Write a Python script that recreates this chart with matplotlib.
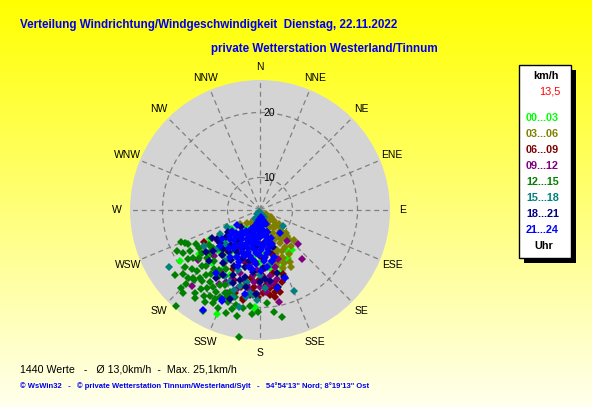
import numpy as np
import matplotlib
matplotlib.use("Agg")
import matplotlib.pyplot as plt
from matplotlib.patches import Rectangle

# ---------------- data: (direction deg, speed km/h) per time slot ----------------
pts_00_03 = [(234,16.6),(237.5,19.6),(202.5,22.3),(183.5,20.1),(235.8,10.2),(154.3,13.9),(135,11.3),
             (236.8,10.3),(158.9,14.4),(181,13.2),(183,19.9),(146.6,12.6),
             (200,12),(215,13),(190,10),(225,14),(210,9),(185,15),(220,11),(195,14),(205,16),(175,12),
             (230,12.5),(212,15.5),(188,12.5),(198,8.5),(170,14),(222,16),(208,11),(192,16.8),(178,9),(216,8.5),
             (150,13.6),(142,12.9),(162,15.2),(228,15.3),(240,13.8),(203,10.7),(187,17.4)]
pts_03_06 = [(124,6.1),(128,7.5),(139,8.5),(135,10),(138,10.8),(136,11.2),(134,10.8),(149,10.9),(157,11.7),
             (155,13),(161,13.5),(154,13.2),(235,8.8),(161,8.8),(158,10),(145,6.9),(128,7.7),(150,9.1),(160,10.4),
             (130,9.2),(142,9.8),(146,11.9),(140,12.3),(152,12.2),(163,12.4),(148,8.0),(133,8.3),(141,7.2),
             (155,7.8),(165,9.6),(168,11.0),(150,14.2),(158,14.6),(132,12.0),(120,7.0),(170,7.0),(175,8.2),
             (200,6.5),(215,7.5),(190,7.0),(137,9.4),(144,10.6),(131,10.4),(147,13.1),(153,10.0),(126,8.6),
             (143,8.2),(160,12.0),(156,14.0),(164,13.9),(152,15.0),(138,6.4),(180,7.6),(225,7.8)]
pts_06_09 = [(169.6,17.8),(172.7,17.1),(178,17.8),(196.8,18.3),(191,18.8),(170,18.6),(168,14.9),(185,17.7),
             (240,14.9),(168,17.1),(175.4,16.6),(169,16.4),(184.5,16.9),(190.7,19.1),
             (180,12),(195,13.5),(205,15),(160,15.5),(175,14),(188,15.5),(210,12),(165,12),(200,16.5),
             (182,16),(220,13),(172,10),(173,18.2),(166,18.0),(181,18.4),(187,18.1),(194,17.2),(163,16.6),
             (178,15.0),(206,11.1),(196,9.8),(214,14.8)]
pts_09_12 = [(132,12.8),(139.4,14.9),(168.3,19.5),(221.8,20.7),(235,13.1),(139,11.3),(182,17.9),(170.7,16.4),
             (189.8,16.7),(201.7,18.7),(231,17.2),
             (178,15.5),(186,15),(193,16),(174,16.8),(198,15.2),(183,14.2),(165,14),(205,17.2),(190,13.5),
             (212,16.3),(160,13),(225,15),(196,17.5),(180,16.8),(215,10.5),(230,11.5),(176,17.7),(188,17.3),
             (171,15.3),(202,16.4),(185,16.1),(199,13.2),(166,16.0),(209,18.0)]
pts_12_15 = [(248,18.1),(244.7,17.2),(243.7,19.2),(234.4,17.7),(230.3,20.4),(225.4,22.1),(222.9,22.4),
             (221.2,24.6),(216.4,21.8),(216.8,20.2),(214.2,19.5),(209.4,22.8),(206.8,21),(203.2,21.4),
             (198.3,21.7),(195.8,20.8),(192.2,21.7),(189.8,20.3),(189.4,24.8),(168.4,21.8),(184.4,21),
             (204.7,19.7),(221.4,19),(226,18.5),(226.6,20.2),(232.8,19.5),(232.6,21.5),(224.6,19.7),
             (212,17),(218,16.5),(224,17),(208,18),(228,16),(215,18.5),(220,18),(205,17.8),(230,15),
             (235,14.5),(210,15.5),(200,18.5),(196,19),(219,14),(227,13.5),(238,16),(240,17.5),(213,20.8),
             (223,19.8),(210,20.3),(232,17),(199,20),(186,19.8),(176,19.4),
             (236,18.4),(229,18.9),(217,17.4),(211,18.9),(222,15.6),(226,17.4),(214,16.2),(208,19.3),
             (203,18.8),(219,19.1),(233,16.1),(237,15.3),(242,16.2),(241,18.6),(246,17.6),(231,14.3),
             (225,21.0),(218,21.3),(207,20.4),(194,20.1),(211,21.5),(201,19.3),(181,20.7),(172,20.8)]
pts_15_18 = [(238,21.5),(237.3,15.2),(239,12.2),(242.7,10.7),(180,5.5),(217,5.8),(158,5.8),(157.2,18.5),
             (197.2,19),(192.2,20.3),(186.9,17.9),(184.7,18.1),(200,5.3),(150,6.3),(210,6.6),(124.8,9.3),
             (203,17),(190,16.2),(198,18),(215,14.5),(208,16.5),(180,15),(225,12.5),(170,13.5),(193,11),
             (185,9.5),(220,10),(176,17),(207,13.2),(200,14.8),(228,14),(186,13),(189,18.6),(182,18.9),
             (195,17.1),(212,13.9),(233,10.8)]
pts_18_21 = [(228.9,14.6),(198.6,19.5),(166.8,17.2),
             (180,8),(190,9),(200,10),(210,11),(220,12),(230,13),(170,10),(160,11),(175,12.5),(185,13),
             (195,14),(205,14.5),(215,15),(225,16),(165,15),(180,16),(190,17),(200,17),(210,16.5),(220,14),
             (170,7),(195,7.5),(205,8.5),(215,9.5),(225,10.5),(235,11),(187,11),(197,12),
             (207,12.5),(217,13),(177,14),(167,13),(172,16),(183,18),(193,15.5),(203,15.8),(213,17.5),
             (232,15.5),(160,16),(162,8.5),(188,6.5),(228,9),(240,13.5),(210,13.8),(200,12.8),(185,10.5),
             (168,11.6),(178,10.4),(192,13.0),(212,12.2),(223,13.3),(204,11.4),(196,16.2),(186,14.6),
             (176,15.6),(218,10.8),(236,12.9),(231,11.7),(164,9.6),(201,8.0)]
pts_21_24 = [(157,7.4),(158,9.6),
             (164,6.6),(163,8.6),(165,10.4),(164,12.6),(171,6.1),(172,8.1),(170,9.9),(171,11.7),
             (173,13.8),(178,6.4),(177,7.9),(179,9.2),(178,11.1),(176,12.8),(179,14.4),
             (185,6.9),(184,8.3),(186,10.1),(185,11.6),(184,13.3),(192,7.1),(191,8.9),
             (193,10.4),(192,12.2),(191,13.9),(199,7.7),(200,9.2),(198,11.1),(199,12.5),
             (201,14.3),(206,8.3),(205,9.9),(207,11.4),(206,13.1),(213,8.9),
             (212,10.3),(214,12.1),(213,13.6),(220,9.4),(221,11.1),(219,12.5),
             (227,10.1),(226,11.5),(228,13.3),(234,10.4),(233,12.3),
             (139,9.7),(203,19.9),(209.7,22.7),(202.7,20.2),(236,9.2),(168,17.3),(160,16.2),
             (190,18.2),(215,16.8),
             (160,7.0),(161,10.6),(167,7.3),(167,9.1),(168,11.2),
             (167,13.0),(174,7.0),(174,8.9),(175,10.6),(174,12.3),(181,7.1),(181,8.6),(182,10.3),(181,12.0),
             (188,7.6),(188,9.5),(189,11.1),(188,12.8),(195,8.0),(195,9.9),(196,11.7),
             (202,8.8),(202,10.6),(203,12.1),(209,9.2),(209,11.0),(216,9.9),(216,11.6),(223,10.5),
             (230,11.1),(188,14.2),(202,13.7)]

series = [pts_00_03, pts_03_06, pts_06_09, pts_09_12, pts_12_15, pts_15_18, pts_18_21, pts_21_24]
slot_labels = ["00...03", "03...06", "06...09", "09...12", "12...15", "15...18", "18...21", "21...24"]
slot_colors = ["#00FF00", "#808000", "#800000", "#800080", "#008000", "#008080", "#000080", "#0000FF"]

dir_labels = ["N", "NNE", "NE", "ENE", "E", "ESE", "SE", "SSE",
              "S", "SSW", "SW", "WSW", "W", "WNW", "NW", "NNW"]
r_ticks = [10, 20]

title1 = "Verteilung Windrichtung/Windgeschwindigkeit  Dienstag, 22.11.2022"
title2 = "private Wetterstation Westerland/Tinnum"
footer1 = "1440 Werte   -   Ø 13,0km/h  -  Max. 25,1km/h"
footer2 = "© WsWin32   -   © private Wetterstation Tinnum/Westerland/Sylt   -   54°54'13\" Nord; 8°19'13\" Ost"
legend_unit = "km/h"
legend_avg = "13,5"
legend_foot = "Uhr"

# ---------------- figure ----------------
W, H = 592, 407
plt.rcParams['font.family'] = ['Liberation Sans', 'DejaVu Sans']
fig = plt.figure(figsize=(W/100, H/100), dpi=100)

def fx(x): return x / W
def fy(y): return 1 - y / H

# background gradient
bg = fig.add_axes([0, 0, 1, 1], zorder=-10)
n = 256
grad = np.zeros((n, 1, 3))
t = np.linspace(0, 1, n)
grad[:, 0, 0] = 1.0
grad[:, 0, 1] = 1.0
grad[:, 0, 2] = t * 0.93
bg.imshow(grad, aspect='auto', extent=[0, 1, 0, 1], origin='upper')
bg.set_axis_off()

# polar axes: center (260,210), radius 130 px
cx, cy, R = 260, 210, 130
ax = fig.add_axes([fx(cx - R), fy(cy + R), 2*R/W, 2*R/H], projection='polar')
ax.set_theta_zero_location('N')
ax.set_theta_direction(-1)
ax.set_ylim(5, 25)
ax.set_facecolor('#D4D4D4')
ax.spines['polar'].set_visible(False)
ax.set_axisbelow(True)
ax.set_xticks(np.deg2rad(np.arange(0, 360, 22.5)))
ax.set_xticklabels([])
ax.set_yticks(r_ticks)
ax.set_yticklabels([])
ax.grid(True, color='#808080', linestyle=(0, (4, 3)), linewidth=0.9)
ax.tick_params(length=0)

for lab, ang in zip(dir_labels, np.arange(0, 360, 22.5)):
    ax.text(np.deg2rad(ang), 27.0, lab, ha='center', va='center', fontsize=7.5,
            color='black', clip_on=False)
for rt in r_ticks:
    ax.annotate(str(rt), xy=(0, rt), xytext=(2.5, 0), textcoords='offset points',
                ha='left', va='center', fontsize=7.5, color='black')

for pts, col in zip(series, slot_colors):
    d = np.deg2rad([p[0] for p in pts])
    s = [p[1] for p in pts]
    ax.plot(d, s, linestyle='none', marker='D', markersize=3.8, color=col,
            markeredgewidth=0, clip_on=False)

# titles
fig.text(fx(20), fy(25), title1, ha='left', va='center', fontsize=8.4, fontweight='bold', color='#0000F0')
fig.text(fx(211), fy(49), title2, ha='left', va='center', fontsize=8.4, fontweight='bold', color='#0000F0')

# footer
fig.text(fx(20), fy(369), footer1, ha='left', va='center', fontsize=7.7, color='black')
fig.text(fx(20), fy(386), footer2, ha='left', va='center', fontsize=5.5, fontweight='bold', color='#0000F0')

# legend box with shadow
bx0, by0, bx1, by1 = 519, 65, 571, 258
fig.patches.append(Rectangle((fx(bx0 + 5), fy(by1 + 5)), (bx1 - bx0)/W, (by1 - by0)/H,
                             transform=fig.transFigure, facecolor='black', edgecolor='none', zorder=1))
fig.patches.append(Rectangle((fx(bx0), fy(by1)), (bx1 - bx0)/W, (by1 - by0)/H,
                             transform=fig.transFigure, facecolor='white', edgecolor='black',
                             linewidth=1, zorder=2))
fig.text(fx(546), fy(76), legend_unit, ha='center', va='center', fontsize=7.8, fontweight='bold', color='black')
fig.text(fx(561), fy(92), legend_avg, ha='right', va='center', fontsize=7.8, color='#FF0000')
for i, (lab, col) in enumerate(zip(slot_labels, slot_colors)):
    fig.text(fx(526), fy(118 + 16*i), lab, ha='left', va='center', fontsize=7.8,
             fontweight='bold', color=col)
fig.text(fx(544), fy(246), legend_foot, ha='center', va='center', fontsize=7.8, fontweight='bold', color='black')

fig.savefig('out.png', dpi=100)
